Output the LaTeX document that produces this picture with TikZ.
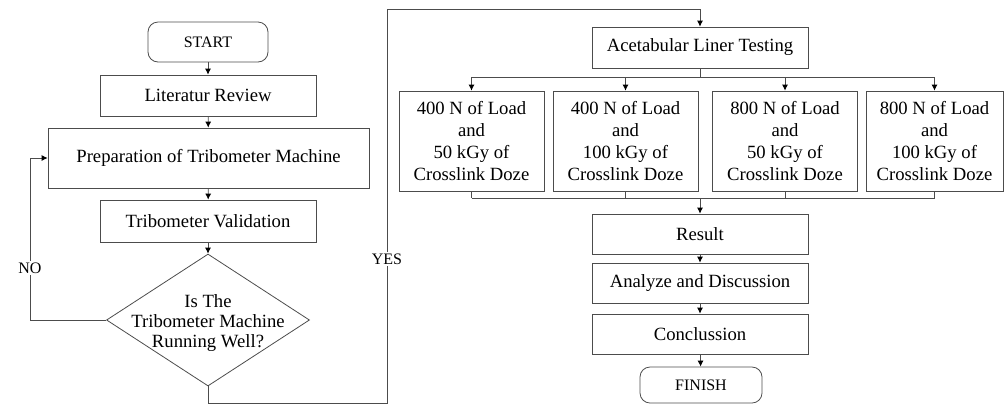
\documentclass[tikz,border=0pt]{standalone}
\usepackage{fontspec}
\setmainfont{Liberation Serif}
\usetikzlibrary{arrows.meta,shapes.geometric}

\tikzset{
  term/.style={draw=black!70, rectangle, rounded corners=7.5pt, minimum width=90pt, minimum height=30pt, inner sep=0pt, font=\fontsize{12}{14}\selectfont},
  proc/.style={draw=black!70, rectangle, minimum width=162pt, minimum height=30.75pt, inner sep=0pt},
  testbox/.style={draw=black!70, rectangle, minimum width=108.75pt, minimum height=75pt, inner sep=0pt, align=center},
  decbox/.style={draw=black!70, diamond, minimum width=152.25pt, minimum height=99pt, inner sep=0pt},
  lbl/.style={fill=white, inner sep=1pt, font=\fontsize{12}{14}\selectfont},
  link/.style={draw=black!70, -{Latex[length=4.5pt, width=4.5pt, black]}}
}

\begin{document}
\begin{tikzpicture}[x=0.75pt, y=-0.75pt, line width=0.6pt,
  every node/.append style={font=\fontsize{14}{16.5}\selectfont}]
\useasboundingbox (0,0) rectangle (1005,405);

% left column
\node[term] (start) at (208,42) {START};
\node[proc] (lit) at (208,95.5) {Literatur Review};
\node[proc, minimum width=240.75pt, minimum height=45pt] (prep) at (208.5,158) {Preparation of Tribometer Machine};
\node[proc, minimum height=31.5pt] (valid) at (208,221) {Tribometer Validation};
\node[decbox] (dec) at (208,320) {};
\node[align=center, font=\fontsize{14}{15}\selectfont] (dectext) at (208,323) {Is The\\Tribometer Machine\\Running Well?};

\draw[link] (start) -- (lit);
\draw[link] (lit) -- (prep);
\draw[link] (prep) -- (valid);
\draw[link] (valid) -- (dec);

% NO loop
\coordinate (nobend) at (30,320);
\draw[link] (dec.west) -- (nobend) |- node[lbl, pos=0.16] {NO} (prep.west);

% right column
\node[proc] (alt) at (700,47.5) {Acetabular Liner Testing};
\node[testbox] (t1) at (471.5,141) {400 N of Load\\and\\50 kGy of\\Crosslink Doze};
\node[testbox] (t2) at (625.5,141) {400 N of Load\\and\\100 kGy of\\Crosslink Doze};
\node[testbox] (t3) at (785,141) {800 N of Load\\and\\50 kGy of\\Crosslink Doze};
\node[testbox, minimum width=102.75pt] (t4) at (934.5,141) {800 N of Load\\and\\100 kGy of\\Crosslink Doze};
\node[proc, minimum height=30pt] (res) at (700,234) {Result};
\node[proc, minimum height=30pt] (ana) at (700,283) {Analyze and Discussion};
\node[proc, minimum height=30pt] (concl) at (700,334) {Conclussion};
\node[term, minimum width=91.5pt, minimum height=27pt] (finish) at (701,385) {FINISH};

% YES path
\coordinate (yesbot) at (387,403);
\coordinate (yestop) at (387,9);
\draw[link] (dec.south) |- (yesbot) -- node[lbl, pos=0.365] {YES} (yestop) -| (alt.north);

% split to the four tests
\coordinate (split) at (700,77);
\draw[draw=black!70] (alt.south) -- (split);
\draw[draw=black!70] (t1.north |- split) -- (t4.north |- split);
\foreach \t in {t1,t2,t3,t4}
  \draw[link] (\t.north |- split) -- (\t.north);

% merge into result
\coordinate (merge) at (700,198);
\foreach \t in {t1,t2,t3,t4}
  \draw[draw=black!70] (\t.south) -- (\t.south |- merge);
\draw[draw=black!70] (t1.south |- merge) -- (t4.south |- merge);
\draw[link] (merge) -- (res.north);

\draw[link] (res) -- (ana);
\draw[link] (ana) -- (concl);
\draw[link] (concl) -- (finish);
\end{tikzpicture}
\end{document}
